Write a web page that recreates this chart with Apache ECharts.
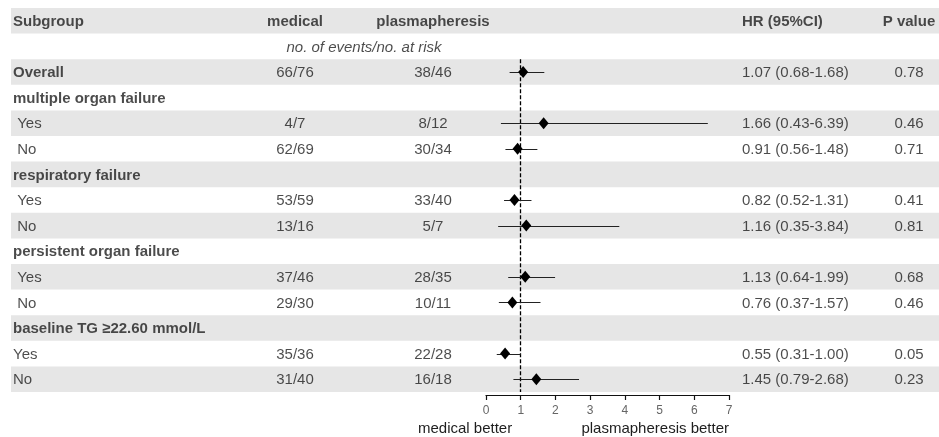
<!DOCTYPE html>
<html>
<head>
<meta charset="utf-8">
<script src="https://cdn.jsdelivr.net/npm/echarts@6/dist/echarts.min.js"></script>
<style>
html,body{margin:0;padding:0;background:#fff;}
#chart{width:939px;height:437px;}
</style>
</head>
<body>
<div id="chart"></div>
<script>
// ---- data ----
var rowKeys = ['hdr','sub','overall','mof','mofYes','mofNo','rf','rfYes','rfNo','pof','pofYes','pofNo','tg','tgYes','tgNo'];
var subgroupLabels = ['Subgroup','','Overall','multiple organ failure',' Yes',' No','respiratory failure',' Yes',' No','persistent organ failure',' Yes',' No','baseline TG \u226522.60 mmol/L','Yes','No'];
var boldRows = [0,2,3,6,9,12];
var medicalText = ['medical','','66/76','','4/7','62/69','','53/59','13/16','','37/46','29/30','','35/36','31/40'];
var plasmaText = ['plasmapheresis','','38/46','','8/12','30/34','','33/40','5/7','','28/35','10/11','','22/28','16/18'];
var hrText = ['HR (95%CI)','','1.07 (0.68-1.68)','','1.66 (0.43-6.39)','0.91 (0.56-1.48)','','0.82 (0.52-1.31)','1.16 (0.35-3.84)','','1.13 (0.64-1.99)','0.76 (0.37-1.57)','','0.55 (0.31-1.00)','1.45 (0.79-2.68)'];
var pText = ['P value','','0.78','','0.46','0.71','','0.41','0.81','','0.68','0.46','','0.05','0.23'];
var subHeader = 'no. of events/no. at risk';
var hr    = [null,null,1.07,null,1.66,0.91,null,0.82,1.16,null,1.13,0.76,null,0.55,1.45];
var lower = [null,null,0.68,null,0.43,0.56,null,0.52,0.35,null,0.64,0.37,null,0.31,0.79];
var upper = [null,null,1.68,null,6.39,1.48,null,1.31,3.84,null,1.99,1.57,null,1.00,2.68];
var refLine = 1;

// ---- layout ----
var ROW_H = 25.6, TOP = 8;
var FONT = 'Liberation Sans, Arial, sans-serif';
var TXT = '#1e1e1e';
var colX = {sub: 13, med: 295, pla: 433, hr: 742, p: 909, subHdr: 364};

var chart = echarts.init(document.getElementById('chart'), null, {renderer:'canvas'});

function textSeries(name, x, texts, align, opts) {
  opts = opts || {};
  var data = [];
  texts.forEach(function (t, i) {
    if (t === '' || t == null) return;
    var bold = (opts.boldRows && opts.boldRows.indexOf(i) >= 0) || (opts.headerBold && i === 0);
    data.push({
      value: [x, i],
      label: {fontWeight: bold ? 'bold' : 'normal', fontStyle: (opts.italic ? 'italic' : 'normal')},
      txt: t
    });
  });
  return {
    type: 'scatter', name: name, xAxisIndex: 0, yAxisIndex: 0, symbolSize: 0,
    silent: true, z: 5,
    data: data,
    label: {
      show: true, position: [0, 1], align: align, verticalAlign: 'middle',
      fontFamily: FONT, fontSize: 15, color: TXT,
      formatter: function (p) { return p.data.txt; }
    }
  };
}

var bandData = [];
rowKeys.forEach(function (k, i) { if (i % 2 === 0) bandData.push([11, 939, i]); });

var forestRows = rowKeys.slice(2);
var ciData = [], ptData = [];
for (var i = 2; i < rowKeys.length; i++) {
  if (hr[i] == null) continue;
  ciData.push([lower[i], upper[i], i - 2]);
  ptData.push([hr[i], i - 2]);
}

var option = {
  animation: false,
  backgroundColor: '#fff',
  textStyle: {fontFamily: FONT},
  grid: [
    {left: 0, right: 0, top: TOP, height: ROW_H * rowKeys.length},
    {left: 486, width: 243, top: TOP + 2 * ROW_H, height: ROW_H * forestRows.length}
  ],
  xAxis: [
    {gridIndex: 0, type: 'value', min: 0, max: 939, show: false},
    {gridIndex: 1, type: 'value', min: 0, max: 7, interval: 1, offset: 3,
     axisLine: {show: true, lineStyle: {color: '#111', width: 1.2}},
     axisTick: {show: true, length: 5, lineStyle: {color: '#111', width: 1.2}},
     axisLabel: {color: '#666', fontSize: 12, margin: 10, fontFamily: FONT},
     splitLine: {show: false}}
  ],
  yAxis: [
    {gridIndex: 0, type: 'category', data: rowKeys, inverse: true, show: false},
    {gridIndex: 1, type: 'category', data: forestRows, inverse: true, show: false}
  ],
  series: [
    {
      type: 'custom', xAxisIndex: 0, yAxisIndex: 0, silent: true, z: 0,
      data: bandData,
      encode: {x: [0, 1], y: 2},
      renderItem: function (params, api) {
        var a = api.coord([api.value(0), api.value(2)]);
        var b = api.coord([api.value(1), api.value(2)]);
        var h = api.size([0, 1])[1];
        return {type: 'rect', shape: {x: a[0], y: a[1] - h / 2, width: b[0] - a[0], height: h},
                style: {fill: '#e6e6e6'}};
      }
    },
    textSeries('subgroup', colX.sub, subgroupLabels, 'left', {boldRows: boldRows}),
    textSeries('medical', colX.med, medicalText, 'center', {headerBold: true}),
    textSeries('plasma', colX.pla, plasmaText, 'center', {headerBold: true}),
    textSeries('hr', colX.hr, hrText, 'left', {headerBold: true}),
    textSeries('p', colX.p, pText, 'center', {headerBold: true}),
    textSeries('subhdr', colX.subHdr, ['', subHeader], 'center', {italic: true}),
    {
      type: 'custom', xAxisIndex: 1, yAxisIndex: 1, silent: true, z: 6,
      data: ciData,
      encode: {x: [0, 1], y: 2},
      renderItem: function (params, api) {
        var a = api.coord([api.value(0), api.value(2)]);
        var b = api.coord([api.value(1), api.value(2)]);
        var y = Math.round(a[1]) + 0.5;
        return {type: 'line', shape: {x1: a[0], y1: y, x2: b[0], y2: y},
                style: {stroke: '#222', lineWidth: 1}};
      }
    },
    {
      type: 'scatter', xAxisIndex: 1, yAxisIndex: 1, silent: true, z: 7,
      symbol: 'diamond', symbolSize: [10, 12],
      itemStyle: {color: '#000', opacity: 1},
      data: ptData,
      markLine: {
        silent: true, symbol: 'none', label: {show: false},
        lineStyle: {color: '#000', type: [4, 2], width: 1.3},
        data: [{xAxis: refLine}]
      }
    }
  ],
  graphic: [
    {type: 'text', left: 418, top: 421, silent: true,
     style: {text: 'medical better', fontSize: 15, fontFamily: FONT, fill: TXT}},
    {type: 'text', right: 939 - 729, top: 421, silent: true,
     style: {text: 'plasmapheresis better', fontSize: 15, fontFamily: FONT, fill: TXT}}
  ]
};
chart.setOption(option);
</script>
</body>
</html>
